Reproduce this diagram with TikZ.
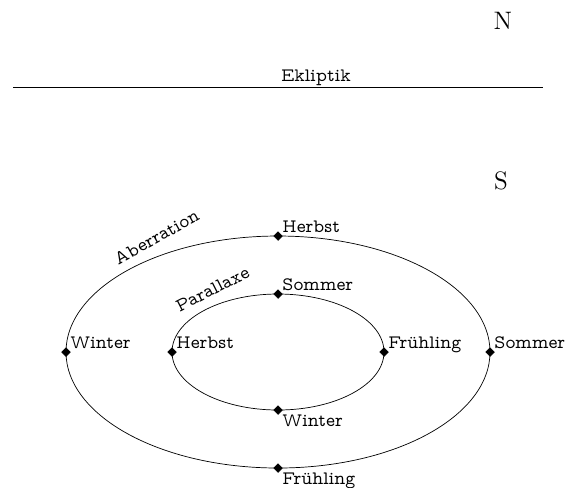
\documentclass[tikz,border=0pt]{standalone}
\usetikzlibrary{shapes.geometric}

\begin{document}
\begin{tikzpicture}[x=0.57pt,y=-0.57pt,
    lbl/.style={font=\fontfamily{lmvtt}\fontsize{10.8}{13}\selectfont, inner sep=1pt,
      text height=1.6ex, text depth=0.3ex},
    lbl up/.style={lbl, yshift=-1.6pt},
    pole/.style={font=\Large},
    mark point/.style={diamond, fill=black, draw, inner sep=0pt, minimum size=5pt}]
  \useasboundingbox (0,0) rectangle (568,487);

  % Ekliptik mit Polen
  \coordinate (eklW) at (13,87);
  \coordinate (eklE) at (543,87);
  \draw (eklW) -- (eklE);
  \node[lbl] (ekl) at (316,77) {Ekliptik};
  \node[pole] (nord) at (503,21) {N};
  \node[pole] (sued) at (501,181) {S};

  % Bahnen um den Ekliptikpol
  \draw (278,352) ellipse [x radius=212, y radius=116];
  \draw (278,352) ellipse [x radius=106, y radius=58];

  \node[lbl, rotate=29] (aber) at (157,238) {Aberration};
  \node[lbl, rotate=27] (para) at (213,290) {Parallaxe};

  % Aberration
  \node[mark point, label={[lbl up]above right:Herbst}] (aH) at (278,236) {};
  \node[mark point, label={[lbl up]above right:Sommer}] (aS) at (490,352) {};
  \node[mark point, label={[lbl]below right:Frühling}] (aF) at (278,468) {};
  \node[mark point, label={[lbl up]above right:Winter}] (aW) at (66,352) {};

  % Parallaxe
  \node[mark point, label={[lbl up]above right:Sommer}] (pS) at (278,294) {};
  \node[mark point, label={[lbl up]above right:Frühling}] (pF) at (384,352) {};
  \node[mark point, label={[lbl]below right:Winter}] (pW) at (278,410) {};
  \node[mark point, label={[lbl up]above right:Herbst}] (pH) at (172,352) {};
\end{tikzpicture}
\end{document}
